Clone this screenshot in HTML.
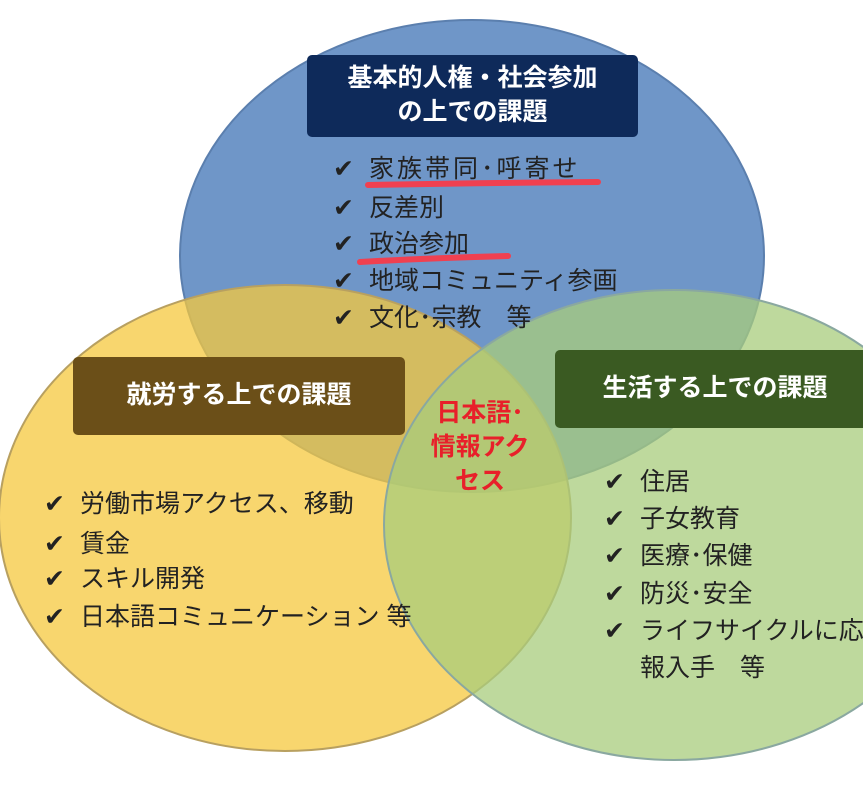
<!DOCTYPE html><html><head><meta charset="utf-8"><style>
html,body{margin:0;width:863px;height:786px;overflow:hidden;background:#fff;font-family:"Liberation Sans","Noto Sans CJK JP",sans-serif}
#w{position:relative;width:863px;height:786px;overflow:hidden}
.t{position:absolute;font-size:25px;color:#222;white-space:nowrap;line-height:1;letter-spacing:0}
.t b{font-weight:normal;display:inline-block;width:36px}
.b{position:absolute;color:#fff;font-size:25px;font-weight:bold;display:flex;align-items:center;justify-content:center;text-align:center;line-height:1.35;border-radius:5px}
</style></head><body><div id="w">
<svg width="863" height="786" style="position:absolute;left:0;top:0">
<ellipse cx="472" cy="256" rx="292" ry="236" fill="#6f96c8" stroke="#5b7fae" stroke-width="2"/>
<ellipse cx="285" cy="518" rx="286" ry="233" fill="#f6c83e" fill-opacity="0.75" stroke="#b8a060" stroke-width="2"/>
<ellipse cx="674" cy="525" rx="290" ry="235" fill="#a8cc7c" fill-opacity="0.75" stroke="#8aa8a0" stroke-width="2"/>
<path d="M368 185 Q480 183 598 182" stroke="#f04050" stroke-width="6" fill="none" stroke-linecap="round"/>
<path d="M360 262 Q430 258 508 256" stroke="#f04050" stroke-width="6" fill="none" stroke-linecap="round"/>
</svg>
<div class="b" style="left:307px;top:55px;width:331px;height:82px;background:#0e2a5a">基本的人権・社会参加<br>の上での課題</div>
<div class="b" style="left:73px;top:357px;width:332px;height:78px;background:#6b4f18">就労する上での課題</div>
<div class="b" style="left:555px;top:350px;width:320px;height:78px;background:#3a5a22">生活する上での課題</div>
<div class="t" style="left:333px;top:157px"><b>✔</b><span style="letter-spacing:3px">家族帯同･呼寄せ</span></div>
<div class="t" style="left:333px;top:196px"><b>✔</b>反差別</div>
<div class="t" style="left:333px;top:232px"><b>✔</b>政治参加</div>
<div class="t" style="left:333px;top:269px"><b>✔</b>地域コミュニティ参画</div>
<div class="t" style="left:333px;top:306px"><b>✔</b>文化･宗教　等</div>
<div class="t" style="left:44px;top:492px"><b>✔</b>労働市場アクセス、移動</div>
<div class="t" style="left:44px;top:532px"><b>✔</b>賃金</div>
<div class="t" style="left:44px;top:567px"><b>✔</b>スキル開発</div>
<div class="t" style="left:44px;top:605px"><b>✔</b>日本語コミュニケーション 等</div>
<div class="t" style="left:604px;top:470px"><b>✔</b>住居</div>
<div class="t" style="left:604px;top:507px"><b>✔</b>子女教育</div>
<div class="t" style="left:604px;top:544px"><b>✔</b>医療･保健</div>
<div class="t" style="left:604px;top:582px"><b>✔</b>防災･安全</div>
<div class="t" style="left:604px;top:619px"><b>✔</b>ライフサイクルに応じ</div>
<div class="t" style="left:640px;top:656px">報入手　等</div>
<div style="position:absolute;left:415px;top:396px;width:130px;text-align:center;color:#e8202a;font-weight:bold;font-size:25px;line-height:34px">日本語･<br>情報アク<br>セス</div>
</div></body></html>
